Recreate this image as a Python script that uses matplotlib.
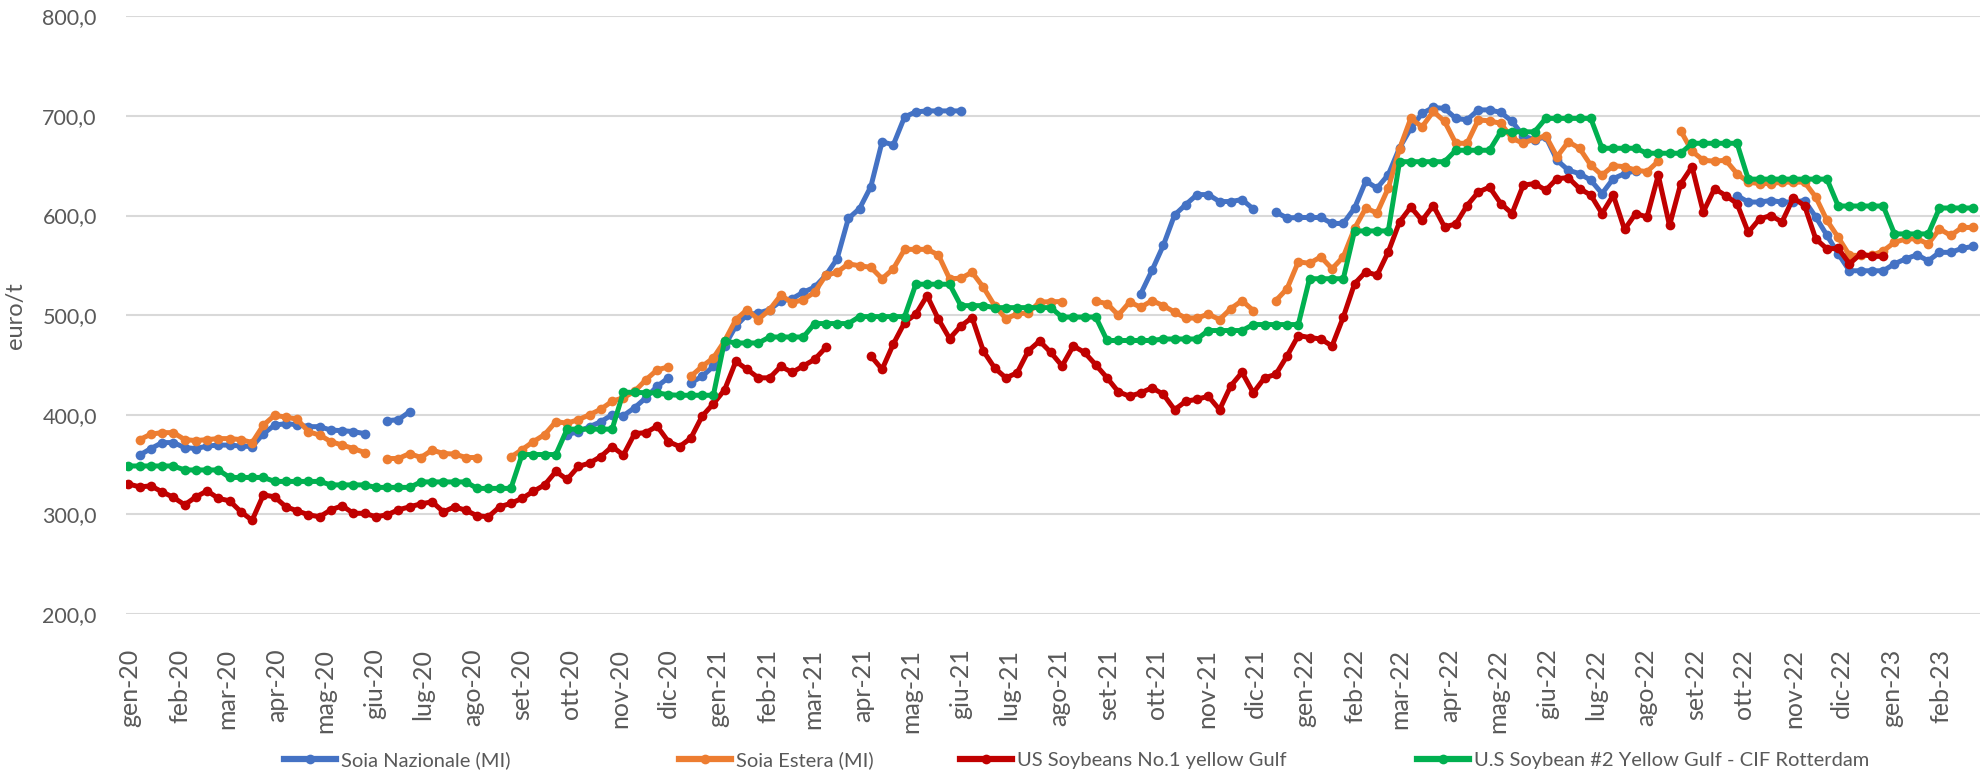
import numpy as np
import pandas as pd
import matplotlib
matplotlib.use("Agg")
import matplotlib.pyplot as plt
from matplotlib.lines import Line2D
from matplotlib.ticker import FuncFormatter

plt.rcParams["font.family"] = ["Lato", "DejaVu Sans"]

nan = np.nan

# =========================
# DATA (weekly, euro/t)
# =========================
dates = pd.date_range("2019-12-31", periods=165, freq="7D")

soia_nazionale = [
    nan, 359.5, 366, 372, 372, 367, 366, 368.5, 369.5, 369.5, 368.5, 368, 381, 389.5, 391, 390, 388, 388, 384.5, 384, 383, 381,
    nan, 394, 395, 403,
    nan, nan, nan, nan, nan, nan, nan, nan, nan, nan, nan, nan, nan,
    380, 383, 388, 393, 400, 399, 407, 417, 428.5, 437,
    nan,
    432, 438.5, 448.5, 469, 489, 500.5, 502, 505.5, 514, 516.5, 523, 528, 540, 556.5, 597, 607, 629, 674, 671, 699, 704, 705, 705, 705, 705,
    nan, nan, nan, nan, nan, nan, nan, nan, nan, nan, nan, nan, nan, nan, nan,
    521.5, 545, 570, 600.5, 611, 621, 621, 614, 614, 616, 606.5,
    nan,
    603.5, 597.5, 598, 598, 598, 592, 592, 607.5, 634.5, 627.5, 641, 668, 687.5, 702.5, 708.5, 707.5, 697.5, 696, 706, 706, 703.5,
    694.5, 680, 676, 679, 655.5, 645.5, 642, 635.5, 622, 637, 642, 645,
    nan, nan, nan, nan, nan, nan, nan, nan,
    620, 613.5, 613.5, 615, 613.5, 613.5, 615, 598.5, 580, 561.5, 544.5, 544.5, 544.5, 544.5, 551.5, 556.5, 560.5, 554.5, 563, 563, 567, 569,
]

soia_estera = [
    nan, 375, 380.5, 382, 382, 375, 374, 375, 376, 376, 375, 372, 389.5, 399.5, 397.5, 395.5, 383, 379.5, 373, 369.5, 366, 362,
    nan, 356, 356, 361, 357, 364.5, 361, 360.5, 357, 357,
    nan, nan,
    357.5, 365, 373, 380, 393, 391.5, 395, 400, 405.5, 413.5, 417, 423.5, 435, 445, 448,
    nan,
    438.5, 448.5, 457, 474, 495.5, 505.5, 495.5, 505.5, 520, 512.5, 515.5, 523, 540, 543, 551.5, 549.5, 548, 536.5, 546.5, 566, 566, 566,
    560.5, 536.5, 537, 543, 528, 509.5, 496.5, 501, 502.5, 513, 513.5, 513.5,
    nan, nan,
    514, 511.5, 500, 513, 508, 514.5, 509.5, 503, 497, 497, 501, 495.5, 506.5, 514.5, 504.5,
    nan,
    514.5, 526.5, 553.5, 552, 558.5, 546.5, 558.5, 587, 607.5, 602.5, 627.5, 667, 697.5, 689, 704.5, 694.5, 672.5, 672.5, 696, 695, 692.5,
    677.5, 672.5, 677, 680, 659, 674, 667.5, 650.5, 640.5, 650, 649, 645.5, 644, 654.5,
    nan,
    685, 664.5, 655.5, 654.5, 655.5, 642, 633.5, 632, 632, 633.5, 633.5, 633.5, 618.5, 595, 578, 560, 560, 560, 564.5, 573, 576.5, 576.5,
    571.5, 586.5, 580, 588, 588,
]

us_no1_gulf = [
    330.5, 327.5, 328.5, 322.5, 317, 309.5, 317.5, 323.5, 316, 313.5, 302.5, 294, 319.5, 317.5, 307.5, 303.5, 299.5, 297.5, 304.5, 308.5,
    301, 301, 297.5, 299.5, 304.5, 307.5, 310.5, 312.5, 302.5, 307.5, 304, 298.5,
    297.5, 307.5, 311, 316, 323, 329.5, 343, 335, 348, 351.5, 358, 368, 359.5, 381, 382, 388.5, 373, 368, 376.5, 398.5, 411, 425, 453.5,
    445.5, 437, 437, 448.5, 442.5, 449, 455.5, 467.5,
    nan, nan, nan,
    459, 445.5, 471, 492.5, 501, 519.5, 496, 476.5, 489, 497.5, 464, 447, 437, 442, 464, 474, 462.5, 449, 469, 462.5, 450, 437, 423,
    418.5, 422, 427, 420.5, 405, 413.5, 415.5, 418.5, 405, 429, 442.5, 422, 437, 440.5, 459, 479.5, 477.5, 476, 469, 498, 531.5, 543.5,
    540, 563.5, 593.5, 608.5, 595, 610, 588.5, 591.5, 610, 623.5, 628.5, 612, 602, 630.5, 632, 625.5, 637, 638, 627, 620.5, 602, 620.5,
    586, 602, 598.5, 640.5, 590, 632, 649, 603.5, 627, 620, 612, 583, 596.5, 600, 593.5, 617.5, 610, 576.5, 566.5, 567, 551.5, 561.5,
    559, 559,
    nan, nan, nan, nan, nan, nan, nan, nan,
]

us_no2_cif_rotterdam = [
    348.5, 348.5, 348.5, 348.5, 348.5, 344.5, 344.5, 344.5, 344.5, 337, 337, 337, 337, 333, 333, 333, 333, 333, 329.5, 329.5, 329.5, 329.5,
    327, 327, 327, 327, 332.5, 332.5, 332.5, 332.5, 332.5, 326, 326, 326, 326, 360, 360, 360, 360, 385.5, 385.5, 385.5, 385.5, 385.5,
    422.5, 422.5, 422, 422, 420, 419.5, 419.5, 419.5, 419.5, 474, 472, 472, 472, 478, 478, 478, 478, 491.5, 491.5, 491.5, 491.5,
    498.5, 498.5, 498.5, 498.5, 498.5, 531, 531, 531, 531, 509.5, 509.5, 509.5, 507.5, 507.5, 507.5, 507.5, 507.5, 507.5,
    498, 498, 498, 498, 474.5, 474.5, 474.5, 474.5, 474.5, 476, 476, 476, 476, 484.5, 484.5, 484.5, 484.5, 490.5, 490.5, 490.5, 490.5, 490.5,
    536.5, 536.5, 536.5, 536.5, 584.5, 584.5, 584.5, 584.5, 654, 654, 654, 654, 654, 665.5, 665.5, 665.5, 665.5, 684, 684, 684, 684,
    697.5, 697.5, 697.5, 697.5, 697.5, 667.5, 667.5, 667.5, 667.5, 662.5, 662.5, 662.5, 662.5, 672.5, 672.5, 672.5, 672.5, 672.5,
    636.5, 636.5, 636.5, 636.5, 636.5, 636.5, 636.5, 636.5, 609.5, 609.5, 609.5, 609.5, 609.5, 581.5, 581.5, 581.5, 581.5,
    607.5, 607.5, 607.5, 607.5,
]

series_names = [
    "Soia Nazionale (MI)",
    "Soia Estera (MI)",
    "US Soybeans No.1 yellow Gulf",
    "U.S Soybean #2 Yellow Gulf - CIF Rotterdam",
]
series_colors = ["#4472C4", "#ED7D31", "#C00000", "#00B050"]

month_names = ["gen", "feb", "mar", "apr", "mag", "giu", "lug", "ago", "set", "ott", "nov", "dic"]
tick_dates = pd.date_range("2020-01-01", "2023-02-01", freq="MS")
tick_labels = [f"{month_names[d.month - 1]}-{d.year % 100:02d}" for d in tick_dates]

y_ticks = [200, 300, 400, 500, 600, 700, 800]

# legend entry left edges, in pixels
legend_x = [284, 679, 960, 1417]


# =========================
# PLOT
# =========================
fig = plt.figure(figsize=(19.8, 7.72), dpi=100)
ax = fig.add_axes([126 / 1980, 158.1 / 772, 1 - 126 / 1980, 597.6 / 772])

all_series = [soia_nazionale, soia_estera, us_no1_gulf, us_no2_cif_rotterdam]
for values, name, color in zip(all_series, series_names, series_colors):
    s = pd.Series(values, index=dates, dtype=float)
    ax.plot(s.index, s.values, color=color, lw=3.6, marker="o", ms=7,
            markeredgewidth=0, label=name, solid_capstyle="round")

ax.set_ylim(200, 800)
ax.set_yticks(y_ticks)
ax.yaxis.set_major_formatter(FuncFormatter(lambda v, _: f"{v:.1f}".replace(".", ",")))
ax.set_xlim(pd.Timestamp("2019-12-29 12:00"), pd.Timestamp("2023-02-25 05:00"))
ax.set_xticks(tick_dates)
ax.set_xticklabels(tick_labels, rotation=90, ha="center", va="top")

ax.grid(axis="y", color="#D9D9D9", lw=1.5)
ax.set_axisbelow(True)
for sp in ax.spines.values():
    sp.set_visible(False)
ax.tick_params(axis="both", length=0, colors="#595959")
ax.tick_params(axis="y", pad=21, labelsize=15.5)
ax.tick_params(axis="x", pad=25, labelsize=18)

fig.text(15 / 1980, 1 - 316 / 772, "euro/t", rotation=90, ha="center", va="center",
         fontsize=17, color="#595959")

# one legend per entry so each sits where Excel put it
for name, color, lx in zip(series_names, series_colors, legend_x):
    h = Line2D([], [], color=color, lw=4.5, marker="o", ms=7, markeredgewidth=0)
    fig.legend([h], [name], loc="center left", bbox_to_anchor=(lx / 1980, 1 - 760 / 772),
               frameon=False, fontsize=14.5, handlelength=2.6, handletextpad=0.25,
               borderpad=0, borderaxespad=0, labelcolor="#595959")

fig.savefig("out.png", dpi=100)
